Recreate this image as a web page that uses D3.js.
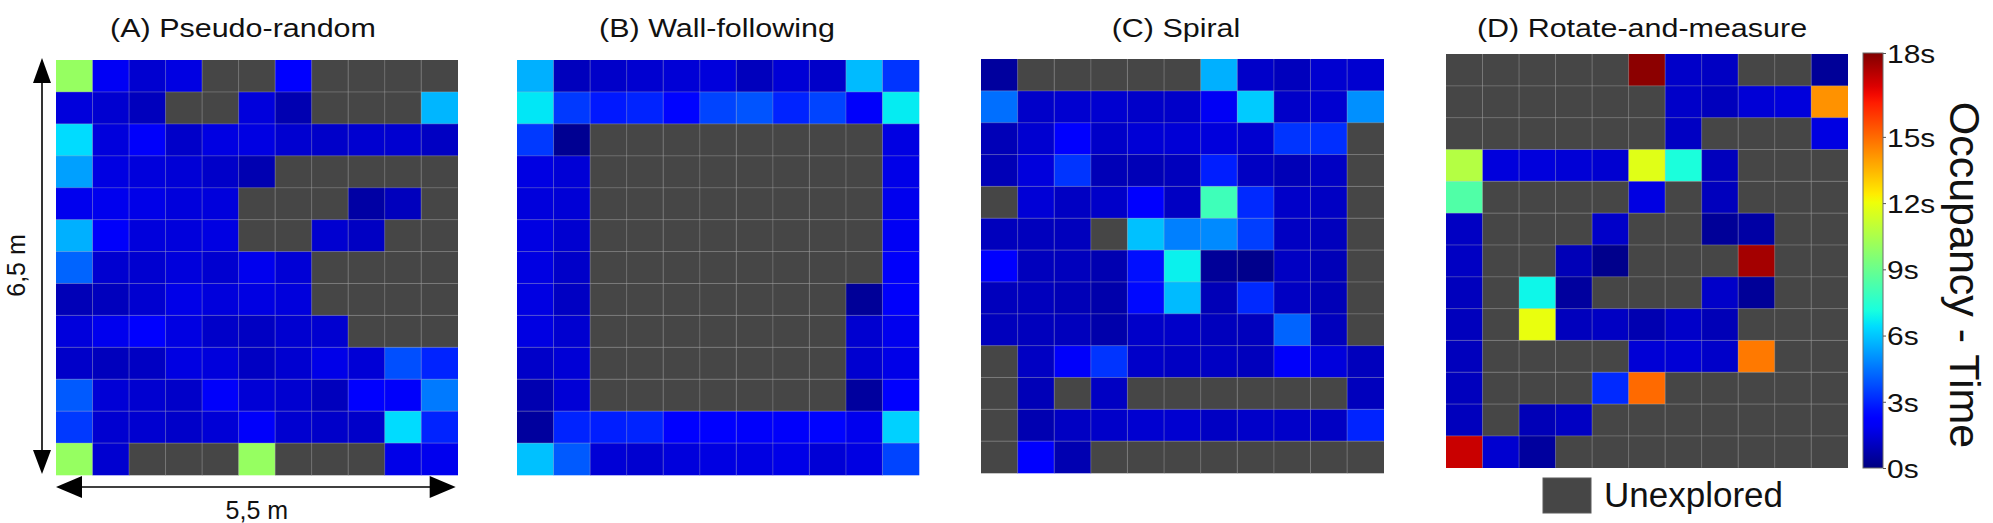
<!DOCTYPE html>
<html><head><meta charset="utf-8">
<script src="https://cdn.jsdelivr.net/npm/d3@7"></script>
<style>
body{margin:0;background:#fff;}
svg{display:block;font-family:"Liberation Sans",Arial,sans-serif;}
</style>
</head><body>
<svg id="chart" width="1993" height="523"></svg>
<script>
// ---------------- DATA ----------------
const panelTitles = ["(A) Pseudo-random", "(B) Wall-following", "(C) Spiral", "(D) Rotate-and-measure"];
const columns = [0,1,2,3,4,5,6,7,8,9,10];          // 11 cells x 0.5 m = 5.5 m
const rows = [0,1,2,3,4,5,6,7,8,9,10,11,12];       // 13 cells x 0.5 m = 6.5 m
const colorTicks = [0, 3, 6, 9, 12, 15, 18];
const maxTime = 18.8;                               // top of the colour bar (labelled "18s")
const widthLabel = "5,5 m";
const heightLabel = "6,5 m";
const legendLabel = "Unexplored";
const colorbarTitle = "Occupancy - Time";
const _ = null; // unexplored cell

// Occupancy time in seconds, row 0 = top row
const panelA = [
  [10.0, 1.9, 1.3, 1.6, _, _, 2.3, _, _, _, _],
  [1.5, 1.3, 1.0, _, _, 1.5, 0.8, _, _, _, 5.7],
  [6.4, 1.5, 2.0, 1.2, 1.6, 1.6, 1.3, 1.2, 1.3, 1.3, 1.1],
  [5.3, 1.6, 1.5, 1.4, 1.2, 0.8, _, _, _, _, _],
  [1.8, 1.8, 1.7, 1.5, 1.5, _, _, _, 0.6, 1.0, _],
  [5.6, 2.0, 1.5, 1.5, 1.6, _, _, 1.3, 1.1, _, _],
  [4.2, 1.3, 1.3, 1.5, 1.3, 1.8, 1.4, _, _, _, _],
  [0.9, 1.0, 1.3, 1.7, 1.5, 1.6, 1.5, _, _, _, _],
  [1.5, 1.8, 2.1, 1.6, 1.2, 1.1, 1.3, 1.3, _, _, _],
  [1.2, 1.0, 1.1, 1.6, 1.5, 1.1, 1.3, 1.7, 1.4, 3.8, 3.0],
  [4.0, 1.4, 1.3, 1.2, 2.0, 1.4, 1.3, 1.0, 2.1, 2.0, 4.6],
  [3.4, 1.3, 1.3, 1.2, 1.4, 2.0, 1.3, 1.2, 1.2, 6.4, 3.0],
  [10.0, 1.3, _, _, _, 10.0, _, _, _, 1.7, 1.8]
];
const panelB = [
  [5.6, 1.0, 1.2, 1.3, 1.4, 1.5, 1.0, 1.4, 1.2, 5.8, 3.3],
  [6.6, 3.4, 2.8, 3.0, 2.4, 3.6, 3.9, 3.0, 3.6, 2.0, 6.7],
  [3.4, 0.3, _, _, _, _, _, _, _, _, 1.6],
  [1.6, 1.4, _, _, _, _, _, _, _, _, 1.7],
  [1.5, 1.4, _, _, _, _, _, _, _, _, 1.8],
  [1.6, 1.3, _, _, _, _, _, _, _, _, 1.9],
  [1.6, 1.2, _, _, _, _, _, _, _, _, 2.0],
  [1.6, 1.1, _, _, _, _, _, _, _, 0.4, 2.0],
  [1.6, 1.3, _, _, _, _, _, _, _, 1.3, 1.8],
  [1.2, 1.4, _, _, _, _, _, _, _, 1.3, 1.7],
  [0.8, 1.4, _, _, _, _, _, _, _, 0.5, 2.2],
  [0.5, 3.0, 2.9, 3.0, 2.2, 2.1, 2.0, 2.0, 2.4, 1.8, 6.2],
  [5.9, 4.0, 1.4, 1.3, 1.5, 1.6, 1.6, 1.7, 1.4, 1.6, 3.6]
];
const panelC = [
  [0.5, _, _, _, _, _, 5.6, 1.2, 1.0, 1.3, 1.3],
  [4.4, 1.2, 1.3, 1.3, 1.2, 1.2, 1.9, 6.1, 1.2, 1.3, 5.0],
  [0.9, 1.3, 2.2, 1.2, 1.4, 1.4, 1.5, 1.3, 3.3, 3.2, _],
  [0.9, 1.5, 3.3, 0.9, 0.9, 1.0, 2.9, 1.1, 0.9, 1.1, _],
  [_, 1.4, 1.1, 1.2, 2.2, 1.1, 8.0, 3.1, 1.2, 1.1, _],
  [1.0, 1.0, 1.0, _, 5.9, 4.7, 4.9, 3.5, 1.1, 1.0, _],
  [2.3, 1.0, 1.0, 0.8, 2.6, 6.8, 0.4, 0.2, 1.1, 0.9, _],
  [1.0, 1.0, 0.9, 0.7, 2.5, 5.8, 0.9, 3.1, 1.1, 0.9, _],
  [1.0, 1.0, 1.0, 0.7, 1.2, 1.2, 1.0, 1.0, 4.2, 1.0, _],
  [_, 1.1, 2.0, 3.3, 1.2, 1.1, 1.1, 1.0, 2.0, 1.5, 1.0],
  [_, 0.9, _, 1.1, _, _, _, _, _, _, 1.0],
  [_, 0.8, 1.1, 1.2, 1.3, 1.3, 1.1, 1.2, 1.2, 1.1, 3.0],
  [_, 2.2, 0.8, _, _, _, _, _, _, _, _]
];
const panelD = [
  [_, _, _, _, _, 18.6, 1.2, 1.1, _, _, 0.4],
  [_, _, _, _, _, _, 1.2, 1.0, 1.4, 1.5, 14.2],
  [_, _, _, _, _, _, 1.1, _, _, _, 1.6],
  [10.7, 1.5, 1.5, 1.4, 1.3, 11.7, 7.2, 1.0, _, _, _],
  [8.4, _, _, _, _, 1.6, _, 1.0, _, _, _],
  [1.1, _, _, _, 1.2, _, _, 0.4, 0.6, _, _],
  [1.1, _, _, 0.9, 0.2, _, _, _, 18.2, _, _],
  [1.0, _, 6.9, 0.5, _, _, _, 1.2, 0.4, _, _],
  [1.0, _, 11.9, 1.0, 1.1, 0.8, 1.2, 0.9, _, _, _],
  [1.0, _, _, _, _, 1.4, 1.4, 1.2, 14.7, _, _],
  [1.0, _, _, _, 3.1, 15.0, _, _, _, _, _],
  [1.0, _, 0.9, 1.1, _, _, _, _, _, _, _],
  [17.6, 1.3, 0.5, _, _, _, _, _, _, _, _]
];
const panelData = [panelA, panelB, panelC, panelD];

// ---------------- LAYOUT / STYLE ----------------
const layout = [
  {x0: 56,   x1: 457.7,  y0: 60, y1: 475,   tx: 243},
  {x0: 517,  x1: 919,    y0: 60, y1: 475,   tx: 717},
  {x0: 981,  x1: 1383.7, y0: 59, y1: 473,   tx: 1176},
  {x0: 1446, x1: 1847.7, y0: 54, y1: 467.7, tx: 1642}
];
const grayColor = "#464646";
const textStretch = 1.15;

function jet(t) {
  t = Math.max(0, Math.min(1, t));
  const seg = pts => {
    for (let i = 1; i < pts.length; i++) {
      if (t <= pts[i][0]) {
        const [a0, v0] = pts[i-1], [a1, v1] = pts[i];
        return v0 + (v1 - v0) * (t - a0) / (a1 - a0);
      }
    }
    return pts[pts.length-1][1];
  };
  const r = seg([[0,0],[0.35,0],[0.66,1],[0.89,1],[1,0.5]]);
  const g = seg([[0,0],[0.125,0],[0.375,1],[0.64,1],[0.91,0],[1,0]]);
  const b = seg([[0,0.5],[0.11,1],[0.34,1],[0.65,0],[1,0]]);
  return d3.rgb(r*255, g*255, b*255).formatHex();
}
const color = d3.scaleSequential(jet).domain([0, maxTime]);

const svg = d3.select("#chart");

// ---------------- PANELS ----------------
panelData.forEach((data, p) => {
  const L = layout[p];
  const x = d3.scaleBand().domain(columns).range([L.x0, L.x1]).padding(0);
  const y = d3.scaleBand().domain(rows).range([L.y0, L.y1]).padding(0);
  const g = svg.append("g");
  const cells = [];
  data.forEach((row, r) => row.forEach((v, c) => cells.push({r, c, v})));
  g.selectAll("rect.cell").data(cells).join("rect")
    .attr("class", "cell")
    .attr("x", d => x(d.c)).attr("y", d => y(d.r))
    .attr("width", x.bandwidth() + 0.3).attr("height", y.bandwidth() + 0.3)
    .attr("fill", d => d.v === null ? grayColor : color(d.v));
  // grid lines
  g.selectAll("line.v").data(columns.slice(1)).join("line")
    .attr("x1", d => x(d)).attr("x2", d => x(d))
    .attr("y1", L.y0).attr("y2", L.y1)
    .attr("stroke", "#b8b8b8").attr("stroke-opacity", 0.35).attr("stroke-width", 1);
  g.selectAll("line.h").data(rows.slice(1)).join("line")
    .attr("y1", d => y(d)).attr("y2", d => y(d))
    .attr("x1", L.x0).attr("x2", L.x1)
    .attr("stroke", "#b8b8b8").attr("stroke-opacity", 0.35).attr("stroke-width", 1);
  // title
  svg.append("text")
    .attr("transform", `translate(${L.tx},37) scale(${textStretch},1)`)
    .attr("text-anchor", "middle").attr("font-size", 26.5).attr("fill", "#111")
    .text(panelTitles[p]);
});

// ---------------- DIMENSION ARROWS (panel A) ----------------
const LA = layout[0];
const arrowG = svg.append("g").attr("fill", "#000").attr("stroke", "#000");
const ay = 487;
arrowG.append("line").attr("x1", LA.x0 + 20).attr("x2", LA.x1 - 20).attr("y1", ay).attr("y2", ay).attr("stroke-width", 1.6);
arrowG.append("path").attr("stroke", "none").attr("d", `M${LA.x0},${ay} L${LA.x0+26},${ay-11} L${LA.x0+26},${ay+11} Z`);
arrowG.append("path").attr("stroke", "none").attr("d", `M${LA.x1-2},${ay} L${LA.x1-28},${ay-11} L${LA.x1-28},${ay+11} Z`);
const ax = 42;
arrowG.append("line").attr("x1", ax).attr("x2", ax).attr("y1", LA.y0 + 10).attr("y2", LA.y1 - 10).attr("stroke-width", 1.6);
arrowG.append("path").attr("stroke", "none").attr("d", `M${ax},${LA.y0-2} L${ax-9},${LA.y0+23} L${ax+9},${LA.y0+23} Z`);
arrowG.append("path").attr("stroke", "none").attr("d", `M${ax},${LA.y1-1} L${ax-9},${LA.y1-25} L${ax+9},${LA.y1-25} Z`);
svg.append("text").attr("x", (LA.x0 + LA.x1) / 2).attr("y", 519)
  .attr("text-anchor", "middle").attr("font-size", 25).attr("fill", "#111").text(widthLabel);
svg.append("text").attr("transform", `translate(25,${(LA.y0 + LA.y1) / 2 - 2}) rotate(-90)`)
  .attr("text-anchor", "middle").attr("font-size", 25).attr("fill", "#111").text(heightLabel);

// ---------------- COLOUR BAR ----------------
const cb = {x: 1863, w: 20, y0: 53, y1: 468};
const defs = svg.append("defs");
const grad = defs.append("linearGradient").attr("id", "jetgrad")
  .attr("x1", 0).attr("y1", 1).attr("x2", 0).attr("y2", 0);
d3.range(0, 1.0001, 0.02).forEach(t => {
  grad.append("stop").attr("offset", t).attr("stop-color", color(t * maxTime));
});
svg.append("rect").attr("x", cb.x).attr("y", cb.y0).attr("width", cb.w).attr("height", cb.y1 - cb.y0)
  .attr("fill", "url(#jetgrad)").attr("stroke", "#6a6a6a").attr("stroke-width", 1);
const cScale = d3.scaleLinear().domain([0, maxTime]).range([cb.y1, cb.y0]);
const tickPos = colorTicks.map(v => v === colorTicks[colorTicks.length - 1] ? maxTime : v);
const axisG = svg.append("g").attr("transform", `translate(${cb.x + cb.w},0)`)
  .call(d3.axisRight(cScale).tickValues(tickPos).tickSize(3)
    .tickFormat((d, i) => colorTicks[i] + "s"));
axisG.select(".domain").remove();
axisG.selectAll(".tick line").attr("stroke", "#555");
axisG.selectAll(".tick text")
  .attr("font-family", "Liberation Sans, Arial, sans-serif")
  .attr("font-size", 26).attr("fill", "#111")
  .attr("x", 3.5).attr("dy", "0.36em")
  .attr("transform", `scale(${textStretch},1)`);
svg.append("text").attr("transform", `translate(1950,275) rotate(90)`)
  .attr("text-anchor", "middle").attr("font-size", 43).attr("fill", "#111").text(colorbarTitle);

// ---------------- LEGEND ----------------
svg.append("rect").attr("x", 1543).attr("y", 478).attr("width", 48).attr("height", 35)
  .attr("fill", grayColor).attr("stroke", "#5a5a5a").attr("stroke-width", 1);
svg.append("text").attr("x", 1604).attr("y", 507).attr("font-size", 35).attr("fill", "#111").text(legendLabel);
</script>
</body></html>
